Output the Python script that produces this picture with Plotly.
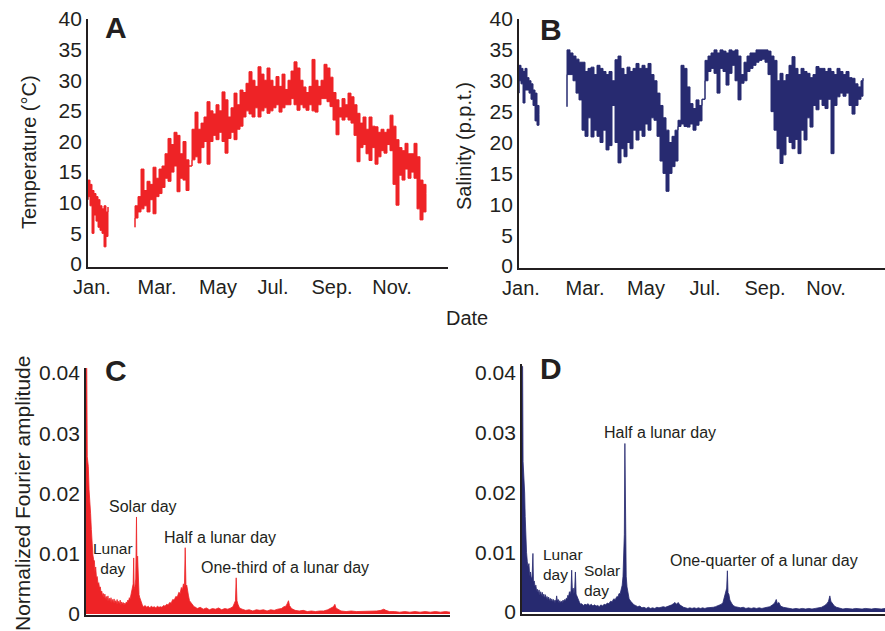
import plotly.graph_objects as go

# ---------------- data ----------------
# Panel A: temperature (deg C), day of year, high/low envelope of the noisy record
tempA_days1 = [0, 2, 4, 6, 8, 10, 12, 14, 16, 18, 20]
tempA_hi1 = [13.7, 13, 12, 11.5, 11, 10.5, 9.5, 9, 9.5, 8.5, 9.3]
tempA_lo1 = [10.5, 11, 9.5, 5, 8, 7, 6, 5.5, 5, 2.8, 4.5]

tempA_days2 = list(range(47, 339, 3))
tempA_hi2 = [9.5, 11, 15.5, 12, 13.5, 13, 15.8, 14, 15.5, 16, 18, 20.5, 19.5, 21.5, 21, 18,
             20, 17, 16, 22, 24.8, 22, 23, 24, 26.5, 25, 24.5, 26, 25, 28.1, 26.8, 24, 25.5,
             27.9, 26, 28.4, 28, 29.5, 31.4, 30, 29, 32.2, 31, 30, 32, 30, 29, 30.6, 29, 31,
             28.5, 30, 31.5, 33, 32, 30, 28.9, 28, 29, 33.4, 30, 29, 30, 32.6, 32, 30.5, 28,
             26.8, 25.5, 27, 26, 27.9, 27.3, 26, 24.6, 23, 24, 22, 24, 22.5, 22.4, 21.5, 22,
             21.5, 22, 24.3, 22.5, 20.3, 19, 18.5, 19.7, 18, 18, 19.7, 17.5, 13.7, 13, 11.5]
tempA_lo2 = [6, 7.5, 8.5, 9, 9.5, 8.5, 10.5, 8.2, 11, 11.5, 12.5, 14, 13.5, 15, 16, 11.8,
             14, 13.7, 12, 16, 17, 17.5, 16.5, 19, 20, 16.3, 20, 21, 20.3, 21.5, 20, 18.1, 20.5,
             21.5, 20.3, 22, 22.5, 24, 25, 24.5, 24, 25.5, 24, 25, 25.5, 24.6, 25, 25.5, 26, 24.8,
             25.5, 26, 26, 27, 26, 25.1, 26, 25.5, 25.1, 26, 25, 24.8, 26, 27, 27, 26.5, 25.7,
             23.5, 21.1, 24, 23.5, 24, 23.5, 23, 21, 16.7, 19, 19.5, 18, 16.9, 19, 16.3, 17.5,
             18.5, 18.1, 19.5, 18.5, 13, 9.6, 14.5, 13.7, 15.5, 14, 15, 14, 9, 7.2, 8.5]

# Panel B: salinity (p.p.t.)
salB_days1 = [0, 2, 4, 6, 8, 10, 12, 14, 16, 18, 20]
salB_hi1 = [32.5, 32, 31.5, 32, 30.5, 30, 29.5, 28.5, 28, 26, 24.5]
salB_lo1 = [28, 30, 29.5, 26.4, 28.5, 28.5, 28, 27, 26, 23.5, 22.8]

salB_days2 = list(range(48, 343, 3)) + [344]
salB_hi2 = [35, 34.5, 34, 33.5, 33, 33, 31.5, 32, 32.2, 31, 32.5, 32, 31.5, 31, 31.5, 30,
            33.4, 34, 32, 31, 32.2, 31.5, 32, 32.8, 32, 32.5, 32, 32.8, 31, 30, 28, 26, 24,
            22, 20, 21, 22, 23.6, 32.5, 32, 29, 26.3, 25.5, 26.9, 26, 27, 33.3, 34, 34.5, 35,
            34.5, 35, 34.8, 34.5, 35, 34.8, 35, 34, 31, 33, 34, 34.5, 34.5, 35, 35, 35, 35,
            34.8, 34, 33.3, 30, 31.2, 30, 31, 32.5, 33.9, 32, 31, 32, 31.5, 31.2, 30.5, 31,
            32.3, 32, 32, 31.5, 32, 31.5, 31, 32, 31.5, 31, 31.5, 30.5, 30.4, 29.5, 29, 30, 30.4]
salB_lo2 = [25.8, 31, 31, 30, 28, 26.9, 22, 21, 24, 20.9, 22, 21, 20, 22, 18.8, 19.5,
            26, 20, 16.7, 19, 17.7, 20, 19, 22, 20.4, 22, 21, 23, 22, 24, 23.6, 21, 17,
            15, 12.1, 15, 16.1, 17, 22.6, 23, 22.6, 22.5, 23, 22, 22.8, 23.5, 27, 30, 31.5, 32,
            31.2, 28, 32, 31.5, 29.3, 31.2, 32.5, 30, 26.9, 29.6, 30, 31.5, 32, 32.5, 33, 33.3, 33.5,
            33, 31, 25, 22, 19, 16.6, 18, 21, 20, 19, 20.5, 18.2, 22, 20.4, 24, 22.5,
            26, 25.3, 27, 26, 25.5, 27, 18.2, 26, 27.4, 28, 27.5, 28, 26, 24.6, 26, 27, 27.5]

month_labels = ["Jan.", "Mar.", "May", "Jul.", "Sep.", "Nov."]
month_ticks_A = [4, 69, 130, 185, 244, 304]
month_ticks_B = [2, 66, 127, 186, 246, 307]

# Panel C: Fourier spectrum of temperature (frequency in cycles/day)
specC_freq = [0.000, 0.015, 0.025, 0.045, 0.060, 0.075, 0.090, 0.105, 0.120, 0.135, 0.150, 0.165,
              0.175, 0.190, 0.205, 0.220, 0.235, 0.250, 0.265, 0.280, 0.295, 0.310, 0.325, 0.340,
              0.355, 0.370, 0.385, 0.400, 0.415, 0.430, 0.445, 0.460, 0.475, 0.490, 0.505, 0.520,
              0.535, 0.550, 0.565, 0.580, 0.595, 0.610, 0.625, 0.640, 0.655, 0.670, 0.685, 0.700,
              0.715, 0.730, 0.745, 0.760, 0.775, 0.790, 0.805, 0.820, 0.835, 0.850, 0.865, 0.880,
              0.895, 0.910, 0.925, 0.935, 0.945, 0.960, 0.975, 0.990, 1.000, 1.012, 1.025, 1.040,
              1.055, 1.070, 1.085, 1.100, 1.115, 1.130, 1.160, 1.190, 1.220, 1.250, 1.280, 1.310,
              1.340, 1.370, 1.400, 1.430, 1.460, 1.490, 1.520, 1.550, 1.580, 1.610, 1.640, 1.670,
              1.700, 1.730, 1.760, 1.790, 1.820, 1.845, 1.870, 1.890, 1.910, 1.930, 1.945, 1.960,
              1.975, 1.990, 2.010, 2.030, 2.060, 2.090, 2.120, 2.150, 2.180, 2.240, 2.300, 2.360,
              2.420, 2.480, 2.540, 2.600, 2.660, 2.720, 2.780, 2.840, 2.880, 2.910, 2.930, 2.945,
              2.960, 2.980, 3.010, 3.060, 3.130, 3.200, 3.270, 3.340, 3.410, 3.480, 3.550, 3.620,
              3.690, 3.760, 3.830, 3.880, 3.920, 3.950, 3.970, 3.990, 4.030, 4.100, 4.180, 4.260,
              4.340, 4.420, 4.500, 4.580, 4.660, 4.740, 4.800, 4.850, 4.880, 4.900, 4.940, 5.000,
              5.100, 5.200, 5.300, 5.400, 5.500, 5.600, 5.700, 5.780, 5.840, 5.880, 5.950, 6.050,
              6.150, 6.250, 6.350, 6.450, 6.550, 6.650, 6.750, 6.850, 6.950, 7.050, 7.140]
specC_amp = [0.0408, 0.0408, 0.0261, 0.0245, 0.0206, 0.0190, 0.0167, 0.0140, 0.0106, 0.0098, 0.0090, 0.0088,
             0.0070, 0.0078, 0.0060, 0.0062, 0.0050, 0.0052, 0.0043, 0.0045, 0.0036, 0.0038, 0.0030, 0.0034,
             0.0026, 0.0033, 0.0024, 0.0029, 0.0022, 0.0030, 0.0021, 0.0026, 0.0020, 0.0027, 0.0019, 0.0024,
             0.0018, 0.0025, 0.0018, 0.0022, 0.0017, 0.0024, 0.0016, 0.0021, 0.0016, 0.0023, 0.0015, 0.0020,
             0.0016, 0.0019, 0.0015, 0.0018, 0.0016, 0.0020, 0.0018, 0.0023, 0.0021, 0.0027, 0.0025, 0.0032,
             0.0035, 0.0042, 0.0050, 0.0093, 0.0042, 0.0046, 0.0058, 0.0161, 0.0070, 0.0096, 0.0045, 0.0032,
             0.0027, 0.0022, 0.0018, 0.0016, 0.0013, 0.0012, 0.0014, 0.0011, 0.0013, 0.0010, 0.0013, 0.0011,
             0.0012, 0.0010, 0.0013, 0.0011, 0.0012, 0.0011, 0.0014, 0.0013, 0.0016, 0.0015, 0.0019, 0.0018,
             0.0024, 0.0023, 0.0029, 0.0028, 0.0036, 0.0034, 0.0044, 0.0040, 0.0050, 0.0044, 0.0110, 0.0046,
             0.0048, 0.0036, 0.0030, 0.0022, 0.0019, 0.0015, 0.0012, 0.0011, 0.0009, 0.0011, 0.0008, 0.0010,
             0.0007, 0.0009, 0.0008, 0.0010, 0.0007, 0.0009, 0.0008, 0.0010, 0.0012, 0.0018, 0.0022, 0.0060,
             0.0022, 0.0016, 0.0010, 0.0008, 0.0006, 0.0007, 0.0005, 0.0007, 0.0006, 0.0007, 0.0005, 0.0007,
             0.0006, 0.0008, 0.0009, 0.0012, 0.0013, 0.0018, 0.0022, 0.0014, 0.0009, 0.0006, 0.0005, 0.0006,
             0.0004, 0.0005, 0.0004, 0.0005, 0.0005, 0.0007, 0.0009, 0.0012, 0.0016, 0.0010, 0.0008, 0.0005,
             0.0004, 0.0005, 0.0004, 0.0004, 0.0005, 0.0004, 0.0005, 0.0006, 0.0008, 0.0006, 0.0004, 0.0004,
             0.0003, 0.0004, 0.0003, 0.0004, 0.0003, 0.0004, 0.0003, 0.0004, 0.0003, 0.0004, 0.0003]

# Panel D: Fourier spectrum of salinity
specD_freq = [0.000, 0.012, 0.020, 0.035, 0.050, 0.060, 0.070, 0.085, 0.100, 0.115, 0.130, 0.145,
              0.160, 0.175, 0.190, 0.205, 0.215, 0.230, 0.245, 0.260, 0.275, 0.290, 0.305, 0.320,
              0.335, 0.350, 0.365, 0.380, 0.395, 0.410, 0.425, 0.440, 0.455, 0.470, 0.485, 0.500,
              0.515, 0.530, 0.545, 0.560, 0.575, 0.590, 0.605, 0.620, 0.635, 0.650, 0.665, 0.680,
              0.695, 0.710, 0.725, 0.740, 0.755, 0.770, 0.785, 0.800, 0.815, 0.830, 0.845, 0.860,
              0.875, 0.890, 0.905, 0.920, 0.932, 0.945, 0.960, 0.975, 0.990, 1.002, 1.015, 1.030,
              1.045, 1.060, 1.080, 1.100, 1.120, 1.150, 1.180, 1.210, 1.240, 1.270, 1.300, 1.330,
              1.360, 1.390, 1.420, 1.450, 1.480, 1.510, 1.540, 1.570, 1.600, 1.630, 1.660, 1.690,
              1.720, 1.750, 1.780, 1.800, 1.820, 1.840, 1.860, 1.880, 1.895, 1.910, 1.920, 1.930,
              1.940, 1.955, 1.970, 1.990, 2.010, 2.040, 2.070, 2.100, 2.130, 2.170, 2.210, 2.250,
              2.290, 2.330, 2.370, 2.410, 2.450, 2.490, 2.530, 2.570, 2.610, 2.650, 2.690, 2.730,
              2.770, 2.810, 2.840, 2.870, 2.900, 2.930, 2.960, 2.990, 3.030, 3.070, 3.110, 3.150,
              3.190, 3.230, 3.270, 3.310, 3.350, 3.390, 3.430, 3.470, 3.510, 3.550, 3.590, 3.630,
              3.670, 3.710, 3.740, 3.770, 3.800, 3.820, 3.840, 3.853, 3.865, 3.880, 3.900, 3.930,
              3.960, 4.000, 4.050, 4.100, 4.150, 4.200, 4.250, 4.300, 4.350, 4.400, 4.450, 4.500,
              4.550, 4.600, 4.650, 4.700, 4.740, 4.770, 4.790, 4.820, 4.850, 4.900, 4.960, 5.020,
              5.080, 5.140, 5.200, 5.260, 5.320, 5.380, 5.440, 5.500, 5.560, 5.620, 5.680, 5.720,
              5.750, 5.775, 5.795, 5.820, 5.860, 5.900, 5.960, 6.020, 6.080, 6.140, 6.200, 6.260,
              6.320, 6.380, 6.440, 6.500, 6.560, 6.620, 6.680, 6.740, 6.810]
specD_amp = [0.0411, 0.0411, 0.0252, 0.0230, 0.0199, 0.0160, 0.0120, 0.0100, 0.0084, 0.0075, 0.0081, 0.0060,
             0.0067, 0.0055, 0.0060, 0.0098, 0.0050, 0.0052, 0.0042, 0.0045, 0.0035, 0.0038, 0.0031, 0.0037,
             0.0028, 0.0034, 0.0027, 0.0033, 0.0025, 0.0030, 0.0023, 0.0029, 0.0022, 0.0026, 0.0020, 0.0025,
             0.0019, 0.0023, 0.0018, 0.0022, 0.0017, 0.0021, 0.0016, 0.0020, 0.0016, 0.0027, 0.0018, 0.0021,
             0.0015, 0.0019, 0.0015, 0.0018, 0.0016, 0.0020, 0.0017, 0.0021, 0.0019, 0.0023, 0.0022, 0.0028,
             0.0026, 0.0034, 0.0030, 0.0036, 0.0070, 0.0035, 0.0040, 0.0030, 0.0042, 0.0067, 0.0030, 0.0026,
             0.0022, 0.0018, 0.0016, 0.0013, 0.0014, 0.0011, 0.0013, 0.0012, 0.0014, 0.0011, 0.0013, 0.0010,
             0.0012, 0.0010, 0.0011, 0.0009, 0.0012, 0.0010, 0.0013, 0.0012, 0.0015, 0.0014, 0.0018, 0.0017,
             0.0022, 0.0021, 0.0026, 0.0025, 0.0031, 0.0030, 0.0038, 0.0045, 0.0060, 0.0097, 0.0130, 0.0282,
             0.0089, 0.0060, 0.0042, 0.0030, 0.0022, 0.0018, 0.0014, 0.0012, 0.0011, 0.0009, 0.0010, 0.0007,
             0.0008, 0.0006, 0.0008, 0.0006, 0.0007, 0.0006, 0.0008, 0.0007, 0.0008, 0.0009, 0.0008, 0.0009,
             0.0010, 0.0012, 0.0014, 0.0016, 0.0013, 0.0016, 0.0012, 0.0010, 0.0008, 0.0007, 0.0006, 0.0007,
             0.0006, 0.0007, 0.0006, 0.0007, 0.0006, 0.0007, 0.0006, 0.0007, 0.0007, 0.0008, 0.0008, 0.0009,
             0.0010, 0.0011, 0.0013, 0.0016, 0.0026, 0.0030, 0.0040, 0.0069, 0.0032, 0.0030, 0.0020, 0.0015,
             0.0011, 0.0009, 0.0008, 0.0007, 0.0008, 0.0006, 0.0007, 0.0006, 0.0007, 0.0006, 0.0007, 0.0006,
             0.0007, 0.0008, 0.0009, 0.0012, 0.0015, 0.0021, 0.0014, 0.0016, 0.0010, 0.0008, 0.0007, 0.0006,
             0.0005, 0.0006, 0.0005, 0.0006, 0.0005, 0.0006, 0.0005, 0.0006, 0.0007, 0.0008, 0.0011, 0.0014,
             0.0018, 0.0027, 0.0018, 0.0014, 0.0010, 0.0008, 0.0006, 0.0005, 0.0006, 0.0005, 0.0005, 0.0006,
             0.0005, 0.0005, 0.0006, 0.0005, 0.0005, 0.0006, 0.0005, 0.0005, 0.0006]

amp_ticks = [0, 0.01, 0.02, 0.03, 0.04]
amp_ticktext = ["0", "0.01", "0.02", "0.03", "0.04"]

# ---------------- styling ----------------
RED = "#EE2326"
NAVY = "#272A70"
INK = "#231F20"
FONT = "Liberation Sans, Arial, Helvetica, sans-serif"
W, H = 885, 631


def band(days, hi, lo):
    """Closed polygon running along the high envelope and back along the low one."""
    xs = list(days) + list(days)[::-1] + [days[0]]
    ys = list(hi) + list(lo)[::-1] + [hi[0]]
    return xs, ys


def px(x):
    return x / W


def py(y):
    return 1 - y / H


fig = go.Figure()

for days, hi, lo, xa, ya, col in [
    (tempA_days1, tempA_hi1, tempA_lo1, "x", "y", RED),
    (tempA_days2, tempA_hi2, tempA_lo2, "x", "y", RED),
    (salB_days1, salB_hi1, salB_lo1, "x2", "y2", NAVY),
    (salB_days2, salB_hi2, salB_lo2, "x2", "y2", NAVY),
]:
    bx, by = band(days, hi, lo)
    fig.add_trace(go.Scatter(x=bx, y=by, mode="lines", fill="toself", fillcolor=col,
                             line=dict(color=col, width=1.0, shape="hv"),
                             xaxis=xa, yaxis=ya, hoverinfo="skip"))

fig.add_trace(go.Scatter(x=specC_freq, y=specC_amp, mode="lines", fill="tozeroy",
                         fillcolor=RED, line=dict(color=RED, width=0.8),
                         xaxis="x3", yaxis="y3", hoverinfo="skip"))
fig.add_trace(go.Scatter(x=specD_freq, y=specD_amp, mode="lines", fill="tozeroy",
                         fillcolor=NAVY, line=dict(color=NAVY, width=0.8),
                         xaxis="x4", yaxis="y4", hoverinfo="skip"))

axis_common = dict(showline=True, linecolor=INK, linewidth=1.8, showgrid=False,
                   zeroline=False, ticks="", fixedrange=True, automargin=False)
xt = dict(family=FONT, size=20, color=INK)
yt = dict(family=FONT, size=21, color=INK)

fig.update_layout(
    width=W, height=H,
    margin=dict(l=0, r=0, t=0, b=0, pad=0, autoexpand=False),
    paper_bgcolor="white", plot_bgcolor="white",
    showlegend=False,
    font=dict(family=FONT, color=INK),
    xaxis=dict(domain=[px(88), px(448)], range=[0, 360], anchor="y",
               tickvals=month_ticks_A, ticktext=month_labels, tickfont=xt,
               ticklabelstandoff=1, **axis_common),
    yaxis=dict(domain=[py(267), py(19)], range=[-0.49, 40], anchor="x",
               tickvals=list(range(0, 41, 5)), tickfont=yt, ticklabelstandoff=0,
               **axis_common),
    xaxis2=dict(domain=[px(519), 1.0], range=[0, 366], anchor="y2",
                tickvals=month_ticks_B, ticktext=month_labels, tickfont=xt,
                ticklabelstandoff=1, **axis_common),
    yaxis2=dict(domain=[py(268), py(19)], range=[-0.32, 40], anchor="x2",
                tickvals=list(range(0, 41, 5)), tickfont=yt, ticklabelstandoff=0,
                **axis_common),
    xaxis3=dict(domain=[px(86), px(450)], range=[0, 7.137], anchor="y3",
                showticklabels=False, **axis_common),
    yaxis3=dict(domain=[py(615), py(368)], range=[-0.00017, 0.04083], anchor="x3",
                tickvals=amp_ticks, ticktext=amp_ticktext, tickfont=yt,
                ticklabelstandoff=0, **axis_common),
    xaxis4=dict(domain=[px(522), 1.0], range=[0, 6.81], anchor="y4",
                showticklabels=False, **axis_common),
    yaxis4=dict(domain=[py(614), py(364)], range=[-0.00033, 0.0415], anchor="x4",
                tickvals=amp_ticks, ticktext=amp_ticktext, tickfont=yt,
                ticklabelstandoff=0, **axis_common),
)


def label(text, x, y, size, bold=False, angle=0, xanchor="center", align="center"):
    fig.add_annotation(text=f"<b>{text}</b>" if bold else text,
                       x=px(x), y=py(y), xref="paper", yref="paper",
                       xanchor=xanchor, yanchor="middle", showarrow=False,
                       textangle=angle, align=align,
                       font=dict(family=FONT, size=size, color=INK))


# panel letters
label("A", 116, 27, 30, bold=True)
label("B", 551, 29, 30, bold=True)
label("C", 116, 370, 30, bold=True)
label("D", 551, 368, 30, bold=True)

# axis titles
label("Temperature (°C)", 29, 152, 20, angle=-90)
label("Salinity (p.p.t.)", 464, 146, 20, angle=-90)
label("Date", 467, 318, 20)
label("Normalized Fourier amplitude", 23, 494, 21, angle=-90)

# peak annotations, panel C
label("Lunar<br>day", 113, 558, 15.5)
label("Solar day", 143, 506, 16)
label("Half a lunar day", 220, 537, 16)
label("One-third of a lunar day", 285, 567, 16)

# peak annotations, panel D
label("Lunar<br>day", 541, 564, 15.5, xanchor="left", align="left")
label("Solar<br>day", 582, 580, 15.5, xanchor="left", align="left")
label("Half a lunar day", 660, 432, 16)
label("One-quarter of a lunar day", 764, 560, 16)

fig.write_html("out.html")
